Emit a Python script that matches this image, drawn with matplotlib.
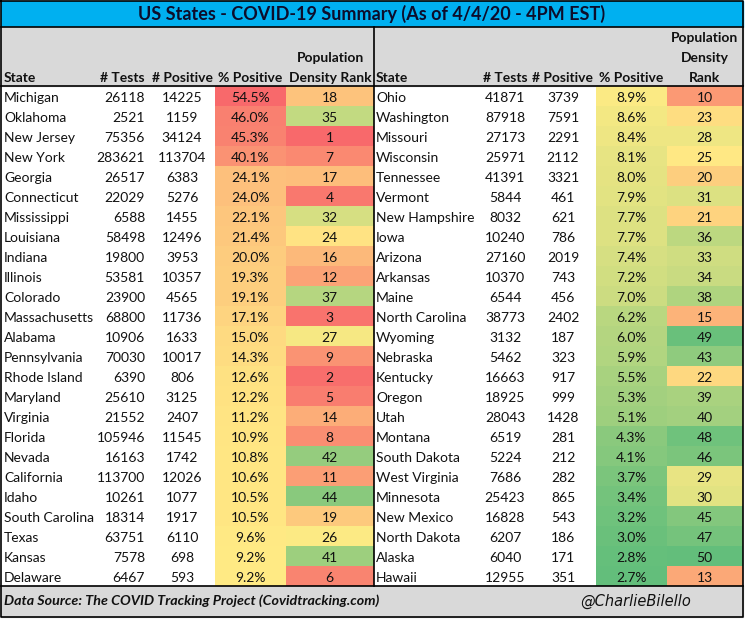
import matplotlib.pyplot as plt
from matplotlib.patches import Rectangle
from matplotlib.colors import LinearSegmentedColormap, TwoSlopeNorm
import numpy as np

# Data (left half / right half)
left_states = ["Michigan", "Oklahoma", "New Jersey", "New York", "Georgia", "Connecticut",
               "Mississippi", "Louisiana", "Indiana", "Illinois", "Colorado", "Massachusetts",
               "Alabama", "Pennsylvania", "Rhode Island", "Maryland", "Virginia", "Florida",
               "Nevada", "California", "Idaho", "South Carolina", "Texas", "Kansas", "Delaware"]
left_tests = [26118, 2521, 75356, 283621, 26517, 22029, 6588, 58498, 19800, 53581, 23900, 68800,
              10906, 70030, 6390, 25610, 21552, 105946, 16163, 113700, 10261, 18314, 63751, 7578, 6467]
left_positive = [14225, 1159, 34124, 113704, 6383, 5276, 1455, 12496, 3953, 10357, 4565, 11736,
                 1633, 10017, 806, 3125, 2407, 11545, 1742, 12026, 1077, 1917, 6110, 698, 593]
left_pct = [54.5, 46.0, 45.3, 40.1, 24.1, 24.0, 22.1, 21.4, 20.0, 19.3, 19.1, 17.1, 15.0, 14.3,
            12.6, 12.2, 11.2, 10.9, 10.8, 10.6, 10.5, 10.5, 9.6, 9.2, 9.2]
left_rank = [18, 35, 1, 7, 17, 4, 32, 24, 16, 12, 37, 3, 27, 9, 2, 5, 14, 8, 42, 11, 44, 19, 26, 41, 6]

right_states = ["Ohio", "Washington", "Missouri", "Wisconsin", "Tennessee", "Vermont",
                "New Hampshire", "Iowa", "Arizona", "Arkansas", "Maine", "North Carolina",
                "Wyoming", "Nebraska", "Kentucky", "Oregon", "Utah", "Montana", "South Dakota",
                "West Virginia", "Minnesota", "New Mexico", "North Dakota", "Alaska", "Hawaii"]
right_tests = [41871, 87918, 27173, 25971, 41391, 5844, 8032, 10240, 27160, 10370, 6544, 38773,
               3132, 5462, 16663, 18925, 28043, 6519, 5224, 7686, 25423, 16828, 6207, 6040, 12955]
right_positive = [3739, 7591, 2291, 2112, 3321, 461, 621, 786, 2019, 743, 456, 2402, 187, 323,
                  917, 999, 1428, 281, 212, 282, 865, 543, 186, 171, 351]
right_pct = [8.9, 8.6, 8.4, 8.1, 8.0, 7.9, 7.7, 7.7, 7.4, 7.2, 7.0, 6.2, 6.0, 5.9, 5.5, 5.3,
             5.1, 4.3, 4.1, 3.7, 3.4, 3.2, 3.0, 2.8, 2.7]
right_rank = [10, 23, 28, 25, 20, 31, 21, 36, 33, 34, 38, 15, 49, 43, 22, 39, 40, 48, 46, 29,
              30, 45, 47, 50, 13]

title = "US States - COVID-19 Summary (As of 4/4/20 - 4PM EST)"
source = "Data Source: The COVID Tracking Project (Covidtracking.com)"
handle = "@CharlieBilello"

FONT = "Lato"
TXT = "#111111"

# Excel style 3-colour scale: green -> yellow -> red
cmap = LinearSegmentedColormap.from_list("excel", ["#63BE7B", "#FFEB84", "#F8696B"])
cmap_rank = LinearSegmentedColormap.from_list("excel_r", ["#F8696B", "#FFEB84", "#63BE7B"])
all_pct = np.array(left_pct + right_pct)
all_rank = np.array(left_rank + right_rank)
pct_norm = TwoSlopeNorm(vmin=all_pct.min(), vcenter=np.median(all_pct), vmax=all_pct.max())
rank_norm = TwoSlopeNorm(vmin=all_rank.min(), vcenter=np.median(all_rank), vmax=all_rank.max())

fig = plt.figure(figsize=(7.45, 6.19), dpi=100)
ax = fig.add_axes([0, 0, 1, 1])
ax.set_xlim(0, 745)
ax.set_ylim(619, 0)
ax.axis("off")

# layout (pixels)
W = 743
TOP, TITLE_B, HEAD_B = 1, 26.5, 86
ROW_H = 20
N = len(left_states)
DATA_B = HEAD_B + N * ROW_H
FOOT_B = 616.5

ax.add_patch(Rectangle((1, TOP), W - 1, TITLE_B - TOP, color="#00B0F0", zorder=0))
ax.add_patch(Rectangle((1, TITLE_B), W - 1, HEAD_B - TITLE_B, color="#D9D9D9", zorder=0))
ax.add_patch(Rectangle((1, DATA_B), W - 1, FOOT_B - DATA_B, color="#D9D9D9", zorder=0))

ax.text(372, 14, title, ha="center", va="center", fontsize=13, fontweight="bold",
        family=FONT, color="#0D0D2B")

fs = 10
halves = [
    dict(states=left_states, tests=left_tests, pos=left_positive, pct=left_pct, rank=left_rank,
         sx=4, tx=145, tha="right", px=182, pcell=(215, 286), rcell=(286, 373.5)),
    dict(states=right_states, tests=right_tests, pos=right_positive, pct=right_pct, rank=right_rank,
         sx=376, tx=505, tha="center", px=563, pcell=(596, 667), rcell=(667, 742.5)),
]

for h in halves:
    for i in range(N):
        y0 = HEAD_B + i * ROW_H
        yc = y0 + ROW_H / 2 + 1.5
        p0, p1 = h["pcell"]
        r0, r1 = h["rcell"]
        ax.add_patch(Rectangle((p0, y0), p1 - p0, ROW_H, color=cmap(pct_norm(h["pct"][i])), lw=0))
        ax.add_patch(Rectangle((r0, y0), r1 - r0, ROW_H, color=cmap_rank(rank_norm(h["rank"][i])), lw=0))
        ax.text(h["sx"], yc, h["states"][i], ha="left", va="center", fontsize=fs, family=FONT, color=TXT)
        ax.text(h["tx"], yc, str(h["tests"][i]), ha=h["tha"], va="center", fontsize=fs, family=FONT, color=TXT)
        ax.text(h["px"], yc, str(h["pos"][i]), ha="center", va="center", fontsize=fs, family=FONT, color=TXT)
        ax.text((p0 + p1) / 2, yc, f"{h['pct'][i]:.1f}%", ha="center", va="center", fontsize=fs,
                family=FONT, color=TXT)
        ax.text((r0 + r1) / 2, yc, str(h["rank"][i]), ha="center", va="center", fontsize=fs,
                family=FONT, color=TXT)

# headers
hy = 77.5
hkw = dict(va="center", fontsize=fs, fontweight="bold", family=FONT, color=TXT)
ax.text(4, hy, "State", ha="left", **hkw)
ax.text(145, hy, "# Tests", ha="right", **hkw)
ax.text(182, hy, "# Positive", ha="center", **hkw)
ax.text(250.5, hy, "% Positive", ha="center", **hkw)
ax.text(330, hy - 20, "Population", ha="center", **hkw)
ax.text(330, hy, "Density Rank", ha="center", **hkw)

ax.text(376, hy, "State", ha="left", **hkw)
ax.text(505, hy, "# Tests", ha="center", **hkw)
ax.text(563, hy, "# Positive", ha="center", **hkw)
ax.text(631.5, hy, "% Positive", ha="center", **hkw)
ax.text(705, hy - 40, "Population", ha="center", **hkw)
ax.text(705, hy - 20, "Density", ha="center", **hkw)
ax.text(705, hy, "Rank", ha="center", **hkw)

# footer
ax.text(4, 601, source, ha="left", va="center", fontsize=10.3, fontweight="bold",
        style="italic", family=FONT, color=TXT)
ax.text(636, 601, handle, ha="center", va="center", fontsize=10.5,
        style="italic", family="DejaVu Sans", color=TXT)

# borders
lk = dict(color="black", lw=1.2)
ax.plot([1, W, W, 1, 1], [TOP, TOP, FOOT_B, FOOT_B, TOP], **lk)
ax.plot([1, W], [TITLE_B, TITLE_B], **lk)
ax.plot([1, W], [HEAD_B, HEAD_B], **lk)
ax.plot([1, W], [DATA_B, DATA_B], **lk)
ax.plot([373.5, 373.5], [TITLE_B, DATA_B], **lk)

fig.savefig("out.png", dpi=100)
